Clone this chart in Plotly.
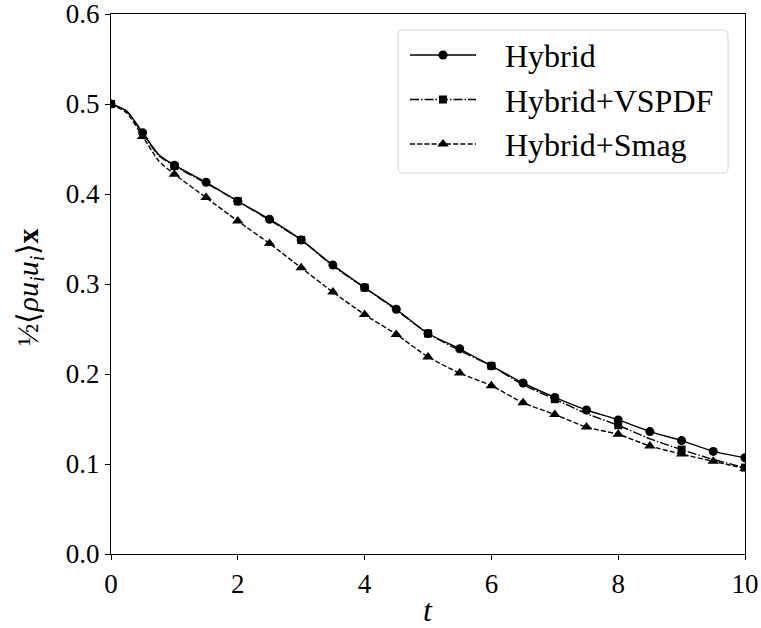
import plotly.graph_objects as go

# ---------------- data ----------------
t = [0.0, 0.25, 0.5, 0.75, 1.0, 1.5, 2.0, 2.5, 3.0, 3.5, 4.0, 4.5, 5.0,
     5.5, 6.0, 6.5, 7.0, 7.5, 8.0, 8.5, 9.0, 9.5, 10.0]
hybrid = [0.500, 0.492, 0.468, 0.444, 0.432, 0.413, 0.392, 0.372, 0.349, 0.321,
          0.296, 0.272, 0.245, 0.228, 0.209, 0.190, 0.174, 0.160, 0.149, 0.136,
          0.126, 0.114, 0.107]
vspdf = [0.500, 0.492, 0.467, 0.443, 0.431, 0.412, 0.392, 0.371, 0.349, 0.320,
         0.296, 0.271, 0.245, 0.226, 0.209, 0.188, 0.172, 0.156, 0.143, 0.128,
         0.116, 0.105, 0.096]
smag = [0.500, 0.490, 0.464, 0.437, 0.422, 0.396, 0.370, 0.345, 0.318, 0.291,
        0.266, 0.244, 0.219, 0.201, 0.187, 0.168, 0.155, 0.141, 0.133, 0.120,
        0.111, 0.103, 0.095]
series_names = ["Hybrid", "Hybrid+VSPDF", "Hybrid+Smag"]
marker_every = [0.5, 1.0, 0.5]
x_ticks = [0, 2, 4, 6, 8, 10]
y_ticks = [0.0, 0.1, 0.2, 0.3, 0.4, 0.5, 0.6]

# ---------------- styles ----------------
FONT = "Liberation Serif, serif"
LW = 1.4
dashes = ["solid", "9px,2px,1.5px,2px", "5px,2.2px"]
symbols = ["circle", "square", "triangle-up"]
msizes = [9, 8, 10]

W, H = 761, 628
L, R, T, B = 111, 16, 14, 74
PW, PH = W - L - R, H - T - B


def px2paper(xp, yp):
    return (xp - L) / PW, (H - B - yp) / PH


fig = go.Figure()
all_y = [hybrid, vspdf, smag]
for name, ys, dash in zip(series_names, all_y, dashes):
    fig.add_trace(go.Scatter(x=t, y=ys, mode="lines", name=name,
                             line=dict(color="black", width=LW, dash=dash,
                                       shape="spline", smoothing=0.6),
                             showlegend=False, hoverinfo="skip"))
for name, ys, sym, ms, step in zip(series_names, all_y, symbols, msizes, marker_every):
    mx = [tt for tt in t if abs(tt / step - round(tt / step)) < 1e-9]
    my = [yy for tt, yy in zip(t, ys) if abs(tt / step - round(tt / step)) < 1e-9]
    fig.add_trace(go.Scatter(x=mx, y=my, mode="markers", name=name,
                             marker=dict(symbol=sym, size=ms, color="black",
                                         line=dict(width=0)),
                             showlegend=False))

# ---------------- hand-built legend ----------------
bx0, by0 = px2paper(398, 30)
bx1, by1 = px2paper(728, 173)
rx, ry = 5 / PW, 5 / PH
path = (f"M{bx0+rx},{by0} L{bx1-rx},{by0} Q{bx1},{by0} {bx1},{by0-ry} "
        f"L{bx1},{by1+ry} Q{bx1},{by1} {bx1-rx},{by1} L{bx0+rx},{by1} "
        f"Q{bx0},{by1} {bx0},{by1+ry} L{bx0},{by0-ry} Q{bx0},{by0} {bx0+rx},{by0} Z")
fig.add_shape(type="path", path=path, xref="paper", yref="paper",
              line=dict(color="#d4d4d4", width=1), fillcolor="white", layer="below")

rows_y = [55, 99.5, 144]
for name, dash, sym, ms, ry_px in zip(series_names, dashes, symbols, msizes, rows_y):
    lx0, ly = px2paper(410, ry_px)
    lx1, _ = px2paper(476, ry_px)
    mxp, _ = px2paper(443, ry_px)
    fig.add_trace(go.Scatter(x=[lx0, lx1], y=[ly, ly], mode="lines",
                             xaxis="x2", yaxis="y2", showlegend=False, hoverinfo="skip",
                             line=dict(color="black", width=LW, dash=dash)))
    fig.add_trace(go.Scatter(x=[mxp], y=[ly], mode="markers",
                             xaxis="x2", yaxis="y2", showlegend=False, hoverinfo="skip",
                             marker=dict(symbol=sym, size=ms, color="black", line=dict(width=0))))
    tx, ty = px2paper(503, ry_px + 1)
    fig.add_annotation(x=tx, y=ty, xref="paper", yref="paper", text=name,
                       showarrow=False, xanchor="left", yanchor="middle",
                       font=dict(family=FONT, size=32, color="black"))

# ---------------- axis titles ----------------
ax_x, ax_y = px2paper(428, 610)
fig.add_annotation(x=ax_x, y=ax_y, xref="paper", yref="paper", text="<i>t</i>",
                   showarrow=False, xanchor="center", yanchor="middle",
                   font=dict(family=FONT, size=32, color="black"))
yt_x, yt_y = px2paper(30, 287)
fig.add_annotation(x=yt_x, y=yt_y, xref="paper", yref="paper",
                   text="½⟨<i>ρu</i><sub><i>i</i></sub><i>u</i><sub><i>i</i></sub>⟩<b>x</b>",
                   textangle=-90, showarrow=False, xanchor="center", yanchor="middle",
                   font=dict(family=FONT, size=30, color="black"))

axis_common = dict(showgrid=False, zeroline=False, showline=True, linecolor="black",
                   linewidth=1.2, mirror=True, ticks="outside", ticklen=5, tickwidth=1.2,
                   tickcolor="black", ticklabeloverflow="allow",
                   tickfont=dict(family=FONT, size=27, color="black"))
fig.update_layout(
    width=W, height=H,
    margin=dict(l=L, r=R, t=T, b=B, autoexpand=False),
    paper_bgcolor="white", plot_bgcolor="white",
    showlegend=False,
    xaxis=dict(range=[0, 10], tickvals=x_ticks, ticktext=[str(v) for v in x_ticks],
               **axis_common),
    yaxis=dict(range=[0, 0.6], tickvals=y_ticks, ticktext=[f"{v:.1f}" for v in y_ticks],
               **axis_common),
    xaxis2=dict(overlaying="x", range=[0, 1], visible=False, fixedrange=True),
    yaxis2=dict(overlaying="y", range=[0, 1], visible=False, fixedrange=True),
)

fig.write_html("out.html")
